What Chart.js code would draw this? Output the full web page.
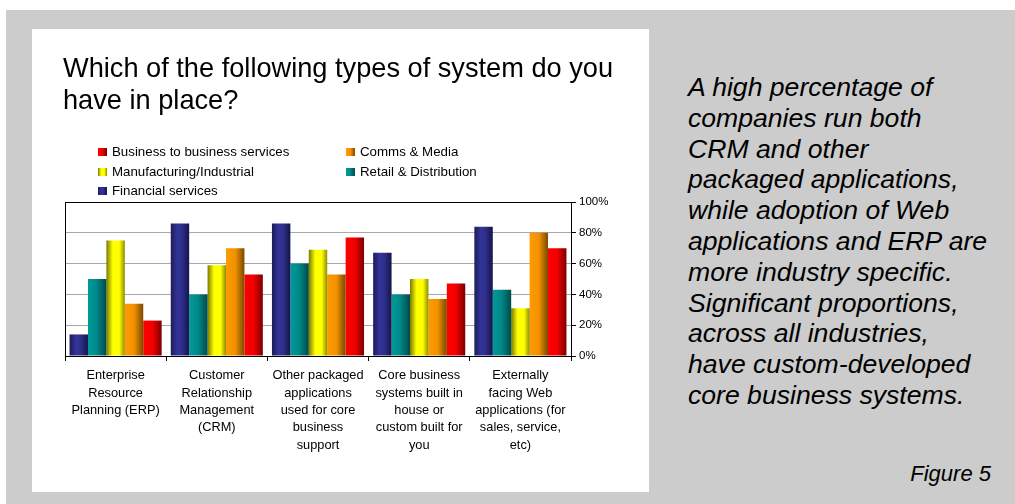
<!DOCTYPE html>
<html>
<head>
<meta charset="utf-8">
<script src="https://cdn.jsdelivr.net/npm/chart.js@4/dist/chart.umd.min.js"></script>
<style>
  html, body { margin: 0; padding: 0; background: #ffffff; }
  body { width: 1015px; height: 504px; position: relative; overflow: hidden; font-family: "Liberation Sans", Arial, sans-serif; }
  #bg { position: absolute; left: 6px; top: 10px; width: 1009px; height: 494px; background: #cccccc; }
  #panel { position: absolute; left: 32px; top: 29px; width: 617px; height: 463px; background: #ffffff; }
  #chartWrap { position: absolute; left: 32px; top: 29px; width: 617px; height: 463px; }
  #title { position: absolute; left: 63px; top: 52px; width: 585px; font-size: 27.2px; line-height: 32px; color: #000; white-space: nowrap; }
  #legend { position: absolute; left: 98px; top: 142px; width: 480px; font-size: 13.3px; color: #000; }
  .li { position: absolute; height: 20px; line-height: 20px; white-space: nowrap; }
  .sw { position: absolute; left: 0; top: 6px; width: 9px; height: 8px; }
  .lt { position: absolute; left: 14px; top: 0; }
  #note { position: absolute; left: 688px; top: 72px; width: 325px; font-size: 26.6px; line-height: 30.8px; font-style: italic; color: #000; white-space: nowrap; }
  #fig { position: absolute; right: 24px; top: 463px; font-size: 22px; line-height: 22px; font-style: italic; color: #000; }
</style>
</head>
<body>
<div id="bg"></div>
<div id="panel"></div>
<div id="chartWrap"><canvas id="c" width="617" height="463"></canvas></div>
<div id="title">Which of the following types of system do you<br>have in place?</div>
<div id="legend"></div>
<div id="note">A high percentage of<br>companies run both<br>CRM and other<br>packaged applications,<br>while adoption of Web<br>applications and ERP are<br>more industry specific.<br>Significant proportions,<br>across all industries,<br>have custom-developed<br>core business systems.</div>
<div id="fig">Figure 5</div>
<script>
// ---- data ----
const categories = [
  ["Enterprise", "Resource", "Planning (ERP)"],
  ["Customer", "Relationship", "Management", "(CRM)"],
  ["Other packaged", "applications", "used for core", "business", "support"],
  ["Core business", "systems built in", "house or", "custom built for", "you"],
  ["Externally", "facing Web", "applications (for", "sales, service,", "etc)"]
];
const seriesNames = ["Financial services", "Retail & Distribution", "Manufacturing/Industrial", "Comms & Media", "Business to business services"];
const financialServices = [14, 86, 86, 67, 84];
const retailDistribution = [50, 40, 60, 40, 43];
const manufacturingIndustrial = [75, 59, 69, 50, 31];
const commsMedia = [34, 70, 53, 37, 80];
const businessToBusiness = [23, 53, 77, 47, 70];
const yTicks = [0, 20, 40, 60, 80, 100];

// ---- styles ----
const stops = [
  [[0, "#1c1c58"], [0.35, "#33339a"], [0.6, "#2f2f8c"], [1, "#14144a"]],
  [[0, "#009a9a"], [0.45, "#008a8a"], [1, "#004a4a"]],
  [[0, "#7a7a00"], [0.35, "#ffff00"], [0.7, "#ffff00"], [1, "#8c8c00"]],
  [[0, "#ff9a00"], [0.5, "#f29200"], [1, "#7a4800"]],
  [[0, "#ff0000"], [0.5, "#f20000"], [1, "#7a0000"]]
];
const CAT_PCT = 0.91;

function gradFor(ctx) {
  const chart = ctx.chart;
  const di = ctx.datasetIndex;
  const xs = chart.scales && chart.scales.x;
  if (!chart.chartArea || !xs || ctx.dataIndex === undefined) return stops[di][1][1];
  const catW = xs.width / categories.length;
  const groupW = catW * CAT_PCT;
  const barW = groupW / seriesNames.length;
  const center = xs.getPixelForValue(ctx.dataIndex);
  const left = center - groupW / 2 + di * barW;
  const g = chart.ctx.createLinearGradient(left, 0, left + barW, 0);
  stops[di].forEach(s => g.addColorStop(s[0], s[1]));
  return g;
}

const seriesData = [financialServices, retailDistribution, manufacturingIndustrial, commsMedia, businessToBusiness];

// ---- legend (HTML, two columns, reversed order) ----
const legend = document.getElementById("legend");
const legendOrder = [4, 3, 2, 1, 0];
legendOrder.forEach((si, k) => {
  const col = k % 2, row = Math.floor(k / 2);
  const d = document.createElement("div");
  d.className = "li";
  d.style.left = (col * 248) + "px";
  d.style.top = (row * 19.5) + "px";
  const sw = document.createElement("span");
  sw.className = "sw";
  sw.style.background = "linear-gradient(to right, " + stops[si].map(s => s[1] + " " + (s[0] * 100) + "%").join(", ") + ")";
  const t = document.createElement("span");
  t.className = "lt";
  t.textContent = seriesNames[si];
  d.appendChild(sw); d.appendChild(t);
  legend.appendChild(d);
});

const leftBorder = {
  id: "leftBorder",
  beforeDatasetsDraw(chart) {
    const a = chart.chartArea, c = chart.ctx;
    c.save();
    c.strokeStyle = "#000";
    c.lineWidth = 1;
    c.beginPath();
    const x = Math.round(a.left) + 0.5;
    c.moveTo(x, a.top);
    c.lineTo(x, a.bottom);
    c.stroke();
    c.restore();
  }
};

new Chart(document.getElementById("c"), {
  type: "bar",
  data: {
    labels: categories,
    datasets: seriesNames.map((n, i) => ({
      label: n,
      data: seriesData[i],
      backgroundColor: gradFor,
      borderWidth: 0,
      barPercentage: 1.0,
      categoryPercentage: CAT_PCT
    }))
  },
  options: {
    responsive: false,
    animation: false,
    events: [],
    layout: { padding: { left: 33, top: 173, right: 38, bottom: 26 } },
    plugins: { legend: { display: false }, title: { display: false }, tooltip: { enabled: false } },
    scales: {
      x: {
        offset: true,
        grid: { display: true, drawOnChartArea: false, drawTicks: true, tickLength: 5, color: "#000", offset: true },
        border: { display: true, color: "#000", width: 1 },
        ticks: {
          color: "#000",
          font: { family: "'Liberation Sans', Arial, sans-serif", size: 12.8, lineHeight: 1.36 },
          padding: 6,
          maxRotation: 0,
          minRotation: 0,
          autoSkip: false
        },
        afterFit(s) { s.height = 110; }
      },
      y: {
        position: "right",
        min: 0,
        max: 100,
        afterBuildTicks(s) { s.ticks = yTicks.map(v => ({ value: v })); },
        grid: {
          color: (c) => (c.tick && (c.tick.value === 100 || c.tick.value === 0)) ? "#000" : "#a8a8a8",
          tickColor: "#000",
          tickLength: 5,
          drawTicks: true
        },
        border: { display: true, color: "#000", width: 1 },
        ticks: {
          color: "#000",
          font: { family: "'Liberation Sans', Arial, sans-serif", size: 11.5 },
          padding: 3,
          callback: (v) => v + "%"
        },
        afterFit(s) { s.width = 40; }
      }
    }
  },
  plugins: [leftBorder]
});
</script>
</body>
</html>
